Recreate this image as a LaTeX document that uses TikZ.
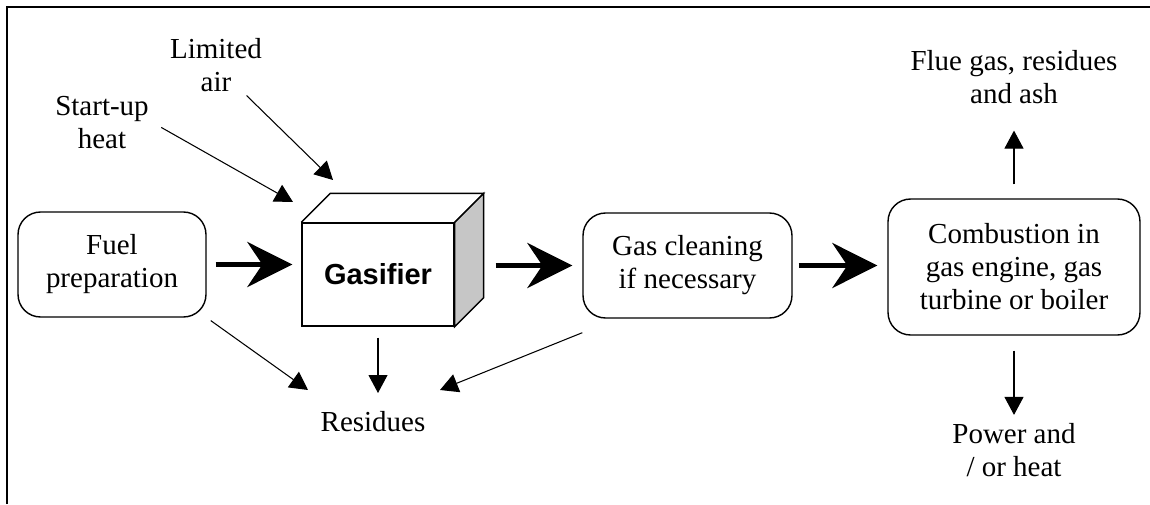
\documentclass[tikz,border=0pt]{standalone}
\usepackage{fontspec}
\setmainfont{Liberation Serif}
\newfontfamily\gasfont{Liberation Sans}
\usetikzlibrary{arrows.meta}
\usetikzlibrary{calc}

\begin{document}
\begin{tikzpicture}[x=0.02cm, y=-0.02cm,
    font=\fontsize{16.5pt}{18.8pt}\selectfont,
    box/.style={draw, line width=0.8pt, rounded corners=0.45cm, align=center},
    lbl/.style={align=center, inner sep=2pt},
    bigarrow/.style={-{Stealth[length=0.9cm,width=0.9cm,inset=0.3cm]}, line width=2.8pt},
    smallarrow/.style={-{Triangle[length=0.36cm,width=0.38cm]}, line width=0.6pt}]
  \useasboundingbox (0,0) rectangle (1150,504);
  \fill[white] (0,0) rectangle (1150,504);
  \draw[line width=1.1pt] (7,504) -- (7,7) -- (1150,7);

  \node[box, minimum width=3.76cm, minimum height=2.1cm] (fuel) at (112,264.5) {Fuel\\preparation};
  \node[draw, line width=0.8pt, minimum width=3.04cm, minimum height=2.06cm,
    font=\gasfont\bfseries\fontsize{16.5pt}{18.8pt}\selectfont] (gasifier) at (378,274.5) {Gasifier};
  \node[box, minimum width=4.18cm, minimum height=2.1cm] (gasclean) at (687.5,265.5) {Gas cleaning\\if necessary};
  \node[box, minimum width=5.04cm, minimum height=2.72cm] (combust) at (1014,267) {Combustion in\\gas engine, gas\\turbine or boiler};
  \node[lbl] (startup) at (102,122.5) {Start-up\\heat};
  \node[lbl] (limited) at (216,65) {Limited\\air};
  \node[lbl] (residues) at (373,422) {Residues};
  \node[lbl] (flue) at (1014,77.5) {Flue gas, residues\\and ash};
  \node[lbl] (power) at (1014,450.5) {Power and\\/ or heat};

  \filldraw[fill=gray!45, line width=0.8pt] (gasifier.north east) -- ++(29,-29)
    -- ($(gasifier.south east)+(29,-29)$) -- (gasifier.south east) -- cycle;
  \draw[line width=0.8pt] (gasifier.north west) -- ++(29,-29)
    -- ($(gasifier.north east)+(29,-29)$) -- (gasifier.north east);

  \coordinate (heattip) at (293,202);
  \coordinate (airtip) at (333,180);
  \coordinate (restip1) at (308,390);
  \coordinate (restip2) at (378,393);
  \coordinate (restip3) at (440,390);

  \path[bigarrow] (fuel.east) edge[shorten <=0.18cm, shorten >=0.18cm] (fuel.east -| gasifier.west);
  \path[bigarrow] (gasclean.west -| gasifier.east) edge[shorten <=0.82cm, shorten >=0.2cm] (gasclean.west);
  \path[bigarrow] (gasclean.east) edge[shorten <=0.12cm, shorten >=0.2cm] (gasclean.east -| combust.west);

  \path[smallarrow] (startup.east) edge[shorten <=0.2cm] (heattip)
    (limited.-45) edge (airtip)
    (fuel.south east) edge[shorten <=0.1cm] (restip1)
    (gasifier.south) edge[shorten <=0.22cm] (restip2)
    ([yshift=-0.28cm]gasclean.south west) edge (restip3)
    (combust.north) edge[shorten <=0.28cm, shorten >=0.45cm] (flue.south)
    (combust.south) edge[shorten <=0.3cm, shorten >=0.1cm] (power.north);
\end{tikzpicture}
\end{document}
